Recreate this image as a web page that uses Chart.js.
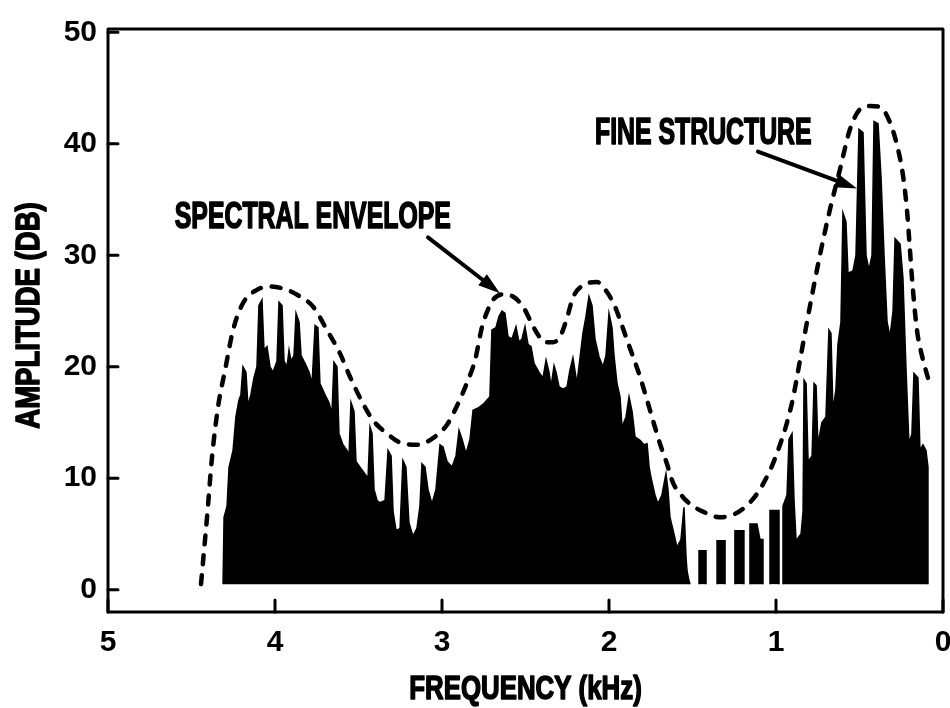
<!DOCTYPE html>
<html>
<head>
<meta charset="utf-8">
<script src="https://cdn.jsdelivr.net/npm/chart.js@4.4.1/dist/chart.umd.min.js"></script>
<style>
  html, body { margin: 0; padding: 0; background: #fff; }
  #wrap { width: 950px; height: 708px; }
</style>
</head>
<body>
<div id="wrap"><canvas id="c" width="950" height="708"></canvas></div>
<script>
// ---- data ----
const xTicks = [5, 4, 3, 2, 1, 0];            // frequency, kHz
const yTicks = [0, 10, 20, 30, 40, 50];       // amplitude, dB

// spectral envelope (dashed curve)
const envelopeFreq = [4.443, 4.425, 4.407, 4.377, 4.341, 4.299, 4.251, 4.192, 4.108, 4.030, 3.928, 3.850, 3.772, 3.689, 3.611, 3.551, 3.473, 3.413, 3.329, 3.251, 3.150, 3.054, 2.970, 2.910, 2.844, 2.802, 2.760, 2.731, 2.695, 2.635, 2.575, 2.515, 2.473, 2.431, 2.383, 2.335, 2.293, 2.251, 2.216, 2.156, 2.072, 2.012, 1.964, 1.934, 1.892, 1.856, 1.814, 1.772, 1.737, 1.695, 1.653, 1.617, 1.557, 1.497, 1.437, 1.335, 1.246, 1.186, 1.114, 1.036, 0.976, 0.934, 0.898, 0.856, 0.796, 0.737, 0.677, 0.617, 0.557, 0.497, 0.437, 0.377, 0.317, 0.269, 0.240, 0.216, 0.198, 0.180, 0.156, 0.126, 0.090];
const envelopeAmp  = [0.5, 3.5, 6.5, 11.9, 16.4, 19.7, 23.3, 25.7, 26.9, 27.2, 26.9, 26.3, 25.4, 23.3, 21.2, 19.1, 16.7, 15.2, 14.0, 13.2, 13.0, 13.6, 14.8, 16.5, 18.8, 20.6, 23.6, 24.9, 26.0, 26.5, 26.3, 25.4, 24.2, 23.0, 22.2, 22.2, 22.7, 24.4, 26.2, 27.3, 27.6, 26.7, 25.4, 24.2, 22.4, 20.9, 19.1, 17.0, 15.2, 13.1, 11.3, 9.6, 8.3, 7.5, 7.0, 6.5, 6.8, 7.4, 8.6, 10.7, 13.0, 15.0, 17.2, 20.6, 25.5, 30.0, 34.1, 37.7, 41.3, 43.1, 43.4, 43.3, 41.9, 39.5, 37.2, 34.1, 30.5, 26.9, 23.3, 21.0, 19.0];

// fine structure (filled harmonic spectrum outline)
const spectrumFreq = [4.311, 4.305, 4.287, 4.275, 4.251, 4.234, 4.216, 4.204, 4.192, 4.174, 4.162, 4.144, 4.126, 4.108, 4.096, 4.078, 4.066, 4.048, 4.030, 4.012, 3.988, 3.976, 3.958, 3.946, 3.928, 3.916, 3.904, 3.886, 3.874, 3.856, 3.844, 3.820, 3.796, 3.778, 3.760, 3.743, 3.731, 3.701, 3.677, 3.659, 3.647, 3.629, 3.617, 3.593, 3.569, 3.557, 3.545, 3.527, 3.515, 3.491, 3.467, 3.443, 3.431, 3.419, 3.407, 3.389, 3.371, 3.341, 3.323, 3.305, 3.293, 3.275, 3.251, 3.234, 3.216, 3.198, 3.174, 3.150, 3.132, 3.120, 3.102, 3.084, 3.060, 3.036, 3.012, 2.994, 2.970, 2.940, 2.916, 2.898, 2.880, 2.856, 2.832, 2.814, 2.784, 2.749, 2.713, 2.701, 2.677, 2.659, 2.641, 2.623, 2.605, 2.581, 2.557, 2.539, 2.521, 2.503, 2.485, 2.467, 2.449, 2.419, 2.395, 2.377, 2.359, 2.347, 2.329, 2.317, 2.299, 2.275, 2.251, 2.234, 2.216, 2.192, 2.156, 2.138, 2.120, 2.102, 2.084, 2.060, 2.036, 2.018, 2.000, 1.982, 1.970, 1.952, 1.934, 1.922, 1.898, 1.880, 1.862, 1.844, 1.814, 1.790, 1.772, 1.760, 1.749, 1.725, 1.707, 1.683, 1.659, 1.647, 1.635, 1.611, 1.593, 1.569, 1.551, 1.539, 1.533, 1.521, 1.515,
  1.461, 1.461, 1.419, 1.419, 1.353, 1.353, 1.305, 1.305, 1.246, 1.246, 1.192, 1.192, 1.156, 1.156, 1.114, 1.096, 1.078, 1.078, 1.036, 1.036, 0.982, 0.982,
  0.958, 0.958, 0.934, 0.922, 0.904, 0.892, 0.880, 0.850, 0.838, 0.832, 0.820, 0.808, 0.784, 0.772, 0.760, 0.749, 0.725, 0.701, 0.683, 0.671, 0.659, 0.641, 0.629, 0.611, 0.599, 0.581, 0.569, 0.539, 0.521, 0.503, 0.479, 0.461, 0.443, 0.425, 0.413, 0.389, 0.371, 0.353, 0.335, 0.317, 0.299, 0.287, 0.257, 0.240, 0.222, 0.204, 0.186, 0.174, 0.150, 0.138, 0.120, 0.102, 0.090, 0.090];
const spectrumAmp  = [0.5, 6.5, 7.5, 11.0, 12.5, 15.5, 17.0, 17.5, 20.0, 19.5, 16.5, 17.5, 19.0, 20.0, 25.5, 26.0, 21.5, 21.8, 20.0, 19.5, 20.5, 25.8, 25.5, 20.5, 20.0, 21.5, 20.5, 21.0, 24.8, 24.0, 21.0, 20.3, 19.5, 18.5, 23.7, 23.5, 18.5, 17.5, 16.8, 15.8, 20.4, 20.0, 14.0, 13.0, 12.5, 12.0, 16.8, 16.0, 11.5, 11.0, 10.5, 10.0, 14.6, 14.0, 9.0, 8.0, 7.8, 8.0, 12.5, 12.0, 7.0, 5.3, 5.5, 11.6, 11.0, 6.0, 4.8, 5.5, 7.5, 11.3, 11.0, 9.0, 7.7, 9.0, 13.0, 12.8, 11.5, 11.0, 12.0, 14.3, 13.5, 12.2, 13.5, 16.1, 16.3, 16.7, 17.3, 23.3, 23.5, 24.5, 25.0, 24.8, 22.7, 22.5, 23.6, 22.2, 22.5, 23.6, 22.0, 21.8, 20.3, 19.5, 19.0, 20.6, 19.5, 18.2, 20.1, 19.5, 18.2, 18.0, 18.2, 19.7, 20.8, 18.5, 23.0, 24.5, 26.3, 25.5, 22.5, 20.9, 20.0, 21.0, 24.8, 23.5, 21.0, 18.5, 17.3, 14.6, 15.5, 17.3, 16.0, 13.7, 13.4, 13.0, 13.1, 11.0, 10.1, 8.5, 7.7, 8.5, 10.4, 9.0, 6.5, 5.0, 3.8, 4.5, 7.4, 3.0, 1.7, 0.8, 0.5,
  0.5, 3.5, 3.5, 0.5, 0.5, 4.4, 4.4, 0.5, 0.5, 5.3, 5.3, 0.5, 0.5, 5.9, 5.9, 4.5, 4.5, 0.5, 0.5, 7.1, 7.1, 0.5,
  0.5, 7.5, 8.5, 13.5, 14.0, 8.0, 4.4, 5.0, 7.0, 18.8, 18.5, 11.5, 12.0, 18.5, 18.3, 13.0, 15.0, 15.5, 23.3, 23.0, 16.0, 18.0, 22.0, 24.0, 33.8, 33.0, 28.4, 28.6, 30.0, 41.3, 41.0, 30.0, 28.7, 30.0, 42.0, 41.8, 37.0, 30.0, 24.0, 22.7, 25.0, 31.5, 31.0, 28.0, 20.0, 13.1, 14.0, 19.4, 19.0, 12.5, 13.0, 12.5, 11.0, 0.5];
const spectrumBase = 0.5;

// labels
const xTitle = 'FREQUENCY (kHz)';
const yTitle = 'AMPLITUDE (DB)';
const notes = [
  { text: 'SPECTRAL ENVELOPE', f: 4.60, a: 33.3, fromF: 3.084, fromA: 31.6, toF: 2.653, toA: 26.6 },
  { text: 'FINE STRUCTURE',    f: 2.084, a: 40.9, fromF: 1.108, fromA: 39.3, toF: 0.515, toA: 36.0 }
];

// ---- chart ----
const FAMILY = "'Liberation Sans', Arimo, Arial, sans-serif";

function condensedText(ctx, text, x, y, sx, align, rot) {
  ctx.save();
  ctx.translate(x, y);
  if (rot) ctx.rotate(rot);
  ctx.scale(sx, 1);
  ctx.textAlign = align;
  ctx.textBaseline = 'middle';
  ctx.lineWidth = 1.6;
  ctx.lineJoin = 'round';
  ctx.fillText(text, 0, 0);
  ctx.strokeText(text, 0, 0);
  ctx.restore();
}

const frame = {
  id: 'frame',
  afterDraw(chart) {
    const { ctx, chartArea: ca, scales: { x, y } } = chart;
    ctx.save();
    ctx.strokeStyle = '#000';
    ctx.fillStyle = '#000';
    ctx.lineWidth = 3;
    ctx.lineCap = 'round';
    ctx.lineJoin = 'round';
    ctx.strokeRect(ca.left, ca.top, ca.right - ca.left, ca.bottom - ca.top);
    // inward ticks
    ctx.beginPath();
    yTicks.forEach(v => {
      const py = y.getPixelForValue(v);
      ctx.moveTo(ca.left, py); ctx.lineTo(ca.left + 10, py);
    });
    xTicks.forEach(v => {
      const px = x.getPixelForValue(v);
      ctx.moveTo(px, ca.bottom); ctx.lineTo(px, ca.bottom - 12);
    });
    ctx.stroke();
    // axis titles (condensed bold lettering)
    ctx.font = 'bold 34px ' + FAMILY;
    condensedText(ctx, xTitle, (ca.left + ca.right) / 2, 690, 0.76, 'center', 0);
    condensedText(ctx, yTitle, 30, (ca.top + ca.bottom) / 2 - 5, 0.81, 'center', -Math.PI / 2);
    // annotations
    ctx.font = 'bold 36px ' + FAMILY;
    notes.forEach(n => {
      condensedText(ctx, n.text, x.getPixelForValue(n.f), y.getPixelForValue(n.a), 0.69, 'left', 0);
      const x0 = x.getPixelForValue(n.fromF), y0 = y.getPixelForValue(n.fromA);
      const x1 = x.getPixelForValue(n.toF),   y1 = y.getPixelForValue(n.toA);
      const ang = Math.atan2(y1 - y0, x1 - x0);
      const L = 22, W = 7;
      const bx = x1 - L * Math.cos(ang), by = y1 - L * Math.sin(ang);
      ctx.lineWidth = 4;
      ctx.beginPath(); ctx.moveTo(x0, y0); ctx.lineTo(bx, by); ctx.stroke();
      ctx.beginPath();
      ctx.moveTo(x1, y1);
      ctx.lineTo(bx + W * Math.sin(ang), by - W * Math.cos(ang));
      ctx.lineTo(bx - W * Math.sin(ang), by + W * Math.cos(ang));
      ctx.closePath(); ctx.fill();
    });
    ctx.restore();
  }
};

new Chart(document.getElementById('c'), {
  type: 'line',
  data: {
    datasets: [
      {
        label: 'Spectral envelope',
        data: envelopeFreq.map((f, i) => ({ x: f, y: envelopeAmp[i] })),
        borderColor: '#000',
        borderWidth: 4.5,
        borderDash: [9, 11],
        borderCapStyle: 'round',
        cubicInterpolationMode: 'monotone',
        pointRadius: 0,
        fill: false
      },
      {
        label: 'Fine structure',
        data: spectrumFreq.map((f, i) => ({ x: f, y: spectrumAmp[i] })),
        borderColor: '#000',
        borderWidth: 1.5,
        backgroundColor: '#000',
        pointRadius: 0,
        tension: 0,
        fill: { value: spectrumBase },
        segment: {
          borderColor: c => (c.p0.parsed.y <= spectrumBase && c.p1.parsed.y <= spectrumBase) ? 'rgba(0,0,0,0)' : '#000'
        }
      }
    ]
  },
  options: {
    responsive: false,
    animation: false,
    devicePixelRatio: 1,
    layout: { padding: { left: 0, right: 7, top: 29, bottom: 0 } },
    plugins: { legend: { display: false }, tooltip: { enabled: false } },
    scales: {
      x: {
        type: 'linear', reverse: true, min: 0, max: 5,
        afterBuildTicks: s => { s.ticks = xTicks.map(v => ({ value: v })); },
        afterFit: s => { s.height = 96; s.paddingLeft = 0; s.paddingRight = 0; },
        grid: { display: false, drawTicks: false },
        border: { display: false },
        ticks: { color: '#000', padding: 13, font: { family: FAMILY, size: 30, weight: 'bold' } },
        title: { display: false, text: xTitle }
      },
      y: {
        type: 'linear', min: -2.0, max: 50.3,
        afterBuildTicks: s => { s.ticks = yTicks.map(v => ({ value: v })); },
        afterFit: s => { s.width = 108; s.paddingTop = 0; s.paddingBottom = 0; },
        grid: { display: false, drawTicks: false },
        border: { display: false },
        ticks: { color: '#000', padding: 11, font: { family: FAMILY, size: 30, weight: 'bold' } },
        title: { display: false, text: yTitle }
      }
    }
  },
  plugins: [frame]
});
</script>
</body>
</html>
